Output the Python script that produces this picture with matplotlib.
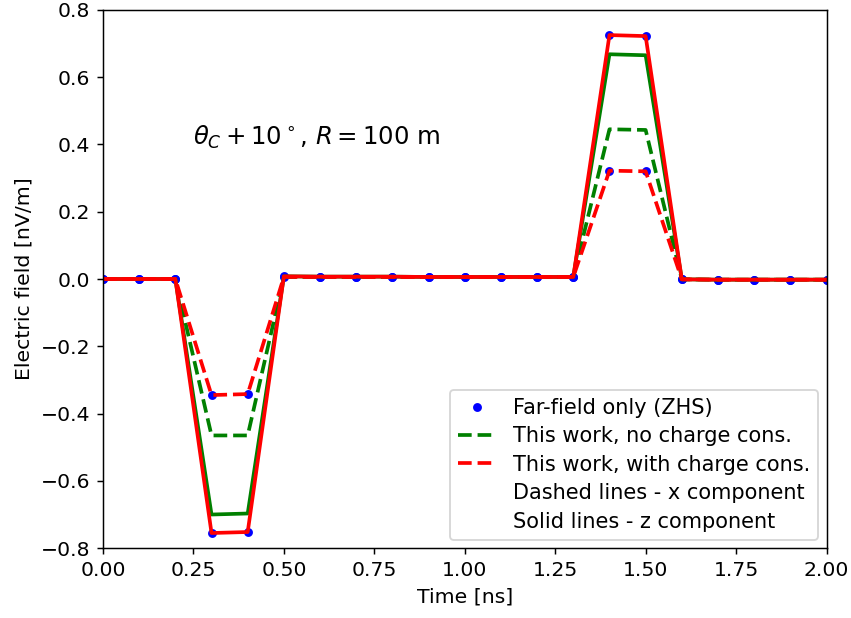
import numpy as np
import matplotlib
matplotlib.use("Agg")
import matplotlib.pyplot as plt

time_ns = [0.0, 0.1, 0.2, 0.3, 0.4, 0.5, 0.6, 0.7, 0.8, 0.9, 1.0,
           1.1, 1.2, 1.3, 1.4, 1.5, 1.6, 1.7, 1.8, 1.9, 2.0]

zhs_x = [0.0, 0.0, 0.0, -0.345, -0.342, 0.006, 0.006, 0.006, 0.006, 0.006, 0.006,
         0.006, 0.006, 0.006, 0.322, 0.320, -0.001, -0.002, -0.002, -0.002, -0.002]
zhs_z = [0.0, 0.0, 0.0, -0.755, -0.752, 0.008, 0.007, 0.007, 0.007, 0.006, 0.006,
         0.006, 0.006, 0.006, 0.725, 0.722, -0.001, -0.002, -0.002, -0.002, -0.002]

nocc_x = [0.0, 0.0, 0.0, -0.465, -0.465, 0.006, 0.006, 0.006, 0.006, 0.006, 0.006,
          0.006, 0.006, 0.006, 0.445, 0.443, -0.001, -0.002, -0.002, -0.002, -0.002]
nocc_z = [0.0, 0.0, 0.0, -0.700, -0.697, 0.008, 0.007, 0.007, 0.007, 0.006, 0.006,
          0.006, 0.006, 0.006, 0.668, 0.665, -0.001, -0.002, -0.002, -0.002, -0.002]

cc_x = [0.0, 0.0, 0.0, -0.345, -0.342, 0.006, 0.006, 0.006, 0.006, 0.006, 0.006,
        0.006, 0.006, 0.006, 0.322, 0.320, -0.001, -0.002, -0.002, -0.002, -0.002]
cc_z = [0.0, 0.0, 0.0, -0.755, -0.752, 0.008, 0.007, 0.007, 0.007, 0.006, 0.006,
        0.006, 0.006, 0.006, 0.725, 0.722, -0.001, -0.002, -0.002, -0.002, -0.002]

fig = plt.figure(figsize=(6.4, 4.647), dpi=133)
ax = fig.add_axes([0.121, 0.113, 0.850, 0.871])

ax.plot(time_ns, zhs_x, 'o', color='blue', markersize=3.8, label='Far-field only (ZHS)')
ax.plot(time_ns, zhs_z, 'o', color='blue', markersize=3.8)
ax.plot(time_ns, nocc_x, '--', color='green', lw=2, label='This work, no charge cons.')
ax.plot(time_ns, nocc_z, '-', color='green', lw=2)
ax.plot(time_ns, cc_x, '--', color='red', lw=2, label='This work, with charge cons.')
ax.plot(time_ns, cc_z, '-', color='red', lw=2)
ax.plot([], [], ' ', label='Dashed lines - x component')
ax.plot([], [], ' ', label='Solid lines - z component')

ax.set_xlim(0, 2)
ax.set_ylim(-0.8, 0.8)
ax.tick_params(labelsize=11)
ax.set_xlabel('Time [ns]', fontsize=11)
ax.set_ylabel('Electric field [nV/m]', fontsize=11)
ax.text(0.25, 0.40, r'$\theta_C + 10^\circ$, $R = 100$ m', fontsize=13.2)
ax.legend(loc='lower right', fontsize=11.3, handlelength=1.8, borderaxespad=0.4,
          labelspacing=0.4)

fig.savefig('out.png', dpi=133)
